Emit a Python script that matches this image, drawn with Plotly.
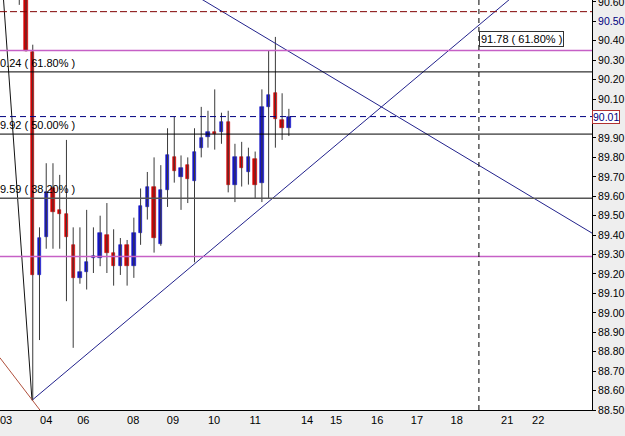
import plotly.graph_objects as go

# ---------------- data (4H bars, index = bar number) ----------------
BAR = list(range(-1, 40))
OPEN = [90.85, 90.90, 90.34, 89.195, 89.39, 89.64, 89.53, 89.51, 89.35, 89.18,
        89.21, 89.28, 89.28, 89.40, 89.31, 89.24, 89.35, 89.24, 89.41, 89.545,
        89.65, 89.355, 89.63, 89.80, 89.70, 89.76, 89.68, 89.85, 89.905, 89.93,
        89.93, 89.98, 89.66, 89.80, 89.725, 89.79, 89.67, 90.06, 90.13, 89.99, 89.95]
HIGH = [90.95, 90.95, 90.38, 89.44, 89.77, 89.77, 89.71, 89.89, 89.44, 89.44,
        89.53, 89.44, 89.50, 89.565, 89.43, 89.385, 89.375, 89.49, 89.64, 89.725,
        89.80, 89.76, 89.95, 90.01, 89.81, 89.80, 89.95, 90.06, 90.04, 90.15,
        90.03, 90.04, 89.87, 89.88, 89.85, 89.83, 90.15, 90.35, 90.42, 90.13, 90.05]
LOW = [90.585, 90.345, 88.55, 88.86, 89.33, 89.33, 89.33, 89.06, 88.82, 89.15,
       89.12, 89.205, 89.24, 89.205, 89.14, 89.195, 89.14, 89.18, 89.35, 89.48,
       89.31, 89.345, 89.545, 89.67, 89.53, 89.565, 89.26, 89.80, 89.85, 89.84,
       89.87, 89.62, 89.57, 89.65, 89.66, 89.59, 89.57, 89.59, 89.85, 89.89, 89.91]
CLOSE = [90.70, 90.35, 89.195, 89.385, 89.62, 89.52, 89.51, 89.39, 89.18, 89.21,
         89.26, 89.29, 89.41, 89.31, 89.24, 89.35, 89.24, 89.41, 89.55, 89.65,
         89.385, 89.63, 89.81, 89.73, 89.745, 89.69, 89.83, 89.90, 89.93, 89.92,
         89.98, 89.66, 89.80, 89.745, 89.80, 89.66, 90.06, 90.12, 90.00, 89.95, 90.01]

X_TICK_POS = [-2.95, 3.0, 8.5, 15.9, 21.8, 27.9, 34.0, 41.7, 46.0, 52.1, 58.0, 63.9, 71.4, 76.0]
X_TICK_TEXT = ["03", "04", "06", "08", "09", "10", "11", "14", "15", "16", "17", "18", "21", "22"]

Y_TICK_VALS = [90.6, 90.5, 90.4, 90.3, 90.2, 90.1, 89.9, 89.8, 89.7, 89.6, 89.5,
               89.4, 89.3, 89.2, 89.1, 89.0, 88.9, 88.8, 88.7, 88.6, 88.5]
Y_TICK_TEXT = ["90.60", "<span style='color:#000080'>90.50</span>", "90.40", "90.30", "90.20",
               "90.10", "89.90", "89.80", "89.70", "89.60", "89.50", "89.40", "89.30", "89.20",
               "89.10", "89.00", "88.90", "88.80", "88.70", "88.60", "88.50"]

LAST_PRICE = 90.01

# horizontal levels
H_LEVELS = [90.55, 90.35, 90.24, 90.01, 89.92, 89.59, 89.29]
H_COLORS = ["#800000", "#c660c6", "#000000", "#000080", "#000000", "#555555", "#c660c6"]
H_DASH = ["7px,3px", "solid", "solid", "6px,4px", "solid", "solid", "solid"]
H_WIDTH = [1, 1.3, 1, 1, 1, 1.5, 1.3]

FIB_LEVELS = [90.24, 89.92, 89.59]
FIB_TEXT = ["0.24 ( 61.80% )", "9.92 ( 50.00% )", "9.59 ( 38.20% )"]

# trend lines (bar index, price)
TREND_X = [[0.89, 84.0], [20.0, 84.0], [-3.6, 0.89], [-3.9, 2.5]]
TREND_Y = [[88.55, 90.97], [90.74, 89.41], [90.74, 88.55], [88.77, 88.48]]
TREND_COLORS = ["#22228c", "#22228c", "#111111", "#b0503c"]

V_LINE_X = 67.2
EXP_LABEL = "91.78 ( 61.80% )"
EXP_PRICE = 90.41

X_RANGE = [-3.86, 83.98]
Y_RANGE = [88.50, 90.61]

FONT = "Liberation Sans, Arial, sans-serif"

fig = go.Figure()

# wicks
wx, wy = [], []
for b, h, l in zip(BAR, HIGH, LOW):
    wx += [b, b, None]
    wy += [l, h, None]
fig.add_trace(go.Scatter(x=wx, y=wy, mode="lines",
                         line=dict(color="#3a3a3a", width=1), hoverinfo="skip",
                         showlegend=False))

# bodies
base = [min(o, c) for o, c in zip(OPEN, CLOSE)]
size = [abs(c - o) for o, c in zip(OPEN, CLOSE)]
cols = ["#1414c8" if c > o else "#d40000" for o, c in zip(OPEN, CLOSE)]
fig.add_trace(go.Bar(x=BAR, y=size, base=base, width=0.5,
                     marker=dict(color=cols, line=dict(color=cols, width=0.6)),
                     showlegend=False, hoverinfo="skip"))

# trend lines
for tx, ty, tc in zip(TREND_X, TREND_Y, TREND_COLORS):
    fig.add_trace(go.Scatter(x=tx, y=ty, mode="lines", line=dict(color=tc, width=1),
                             showlegend=False, hoverinfo="skip"))

# horizontal levels
for lv, c, d, w in zip(H_LEVELS, H_COLORS, H_DASH, H_WIDTH):
    fig.add_shape(type="line", xref="paper", x0=0, x1=1, yref="y", y0=lv, y1=lv,
                  line=dict(color=c, width=w, dash=d))

# vertical dashed line
fig.add_shape(type="line", xref="x", x0=V_LINE_X, x1=V_LINE_X, yref="paper", y0=0, y1=1,
              line=dict(color="#000000", width=1, dash="5px,4px"))

# fib labels
for lv, t in zip(FIB_LEVELS, FIB_TEXT):
    fig.add_annotation(xref="paper", x=0, xanchor="left", xshift=-2, y=lv, yanchor="bottom",
                       yshift=1, text=t, showarrow=False,
                       font=dict(family=FONT, size=11, color="#000000"))

# expansion label
fig.add_annotation(xref="x", x=V_LINE_X, xanchor="left", y=EXP_PRICE, yanchor="middle",
                   text=EXP_LABEL, showarrow=False, bgcolor="#ffffff",
                   bordercolor="#333333", borderwidth=1, borderpad=1,
                   font=dict(family=FONT, size=11, color="#000000"))

# current price box
fig.add_annotation(xref="paper", x=1, xanchor="left", xshift=0, y=LAST_PRICE,
                   yanchor="middle", text=f"{LAST_PRICE:.2f}", showarrow=False,
                   bgcolor="#ffffff", bordercolor="#b03030", borderwidth=1, borderpad=0,
                   font=dict(family=FONT, size=10.5, color="#000080"))

fig.update_layout(
    width=625, height=436,
    margin=dict(l=0, r=33, t=0, b=26),
    paper_bgcolor="#eeeeee", plot_bgcolor="#ffffff",
    bargap=0, showlegend=False,
    font=dict(family=FONT, size=11, color="#000000"),
    xaxis=dict(range=X_RANGE, tickvals=X_TICK_POS, ticktext=X_TICK_TEXT,
               showgrid=False, zeroline=False, showline=True, linecolor="#000000",
               linewidth=1, ticks="", tickfont=dict(family=FONT, size=11),
               ticklabeloverflow="allow", automargin=False, fixedrange=True),
    yaxis=dict(range=Y_RANGE, side="right", tickvals=Y_TICK_VALS, ticktext=Y_TICK_TEXT,
               showgrid=False, zeroline=False, showline=True, linecolor="#000000",
               linewidth=1, ticks="outside", ticklen=3, tickcolor="#000000",
               tickfont=dict(family=FONT, size=10.5), ticklabeloverflow="allow",
               automargin=False, fixedrange=True),
)

fig.write_html("out.html")
